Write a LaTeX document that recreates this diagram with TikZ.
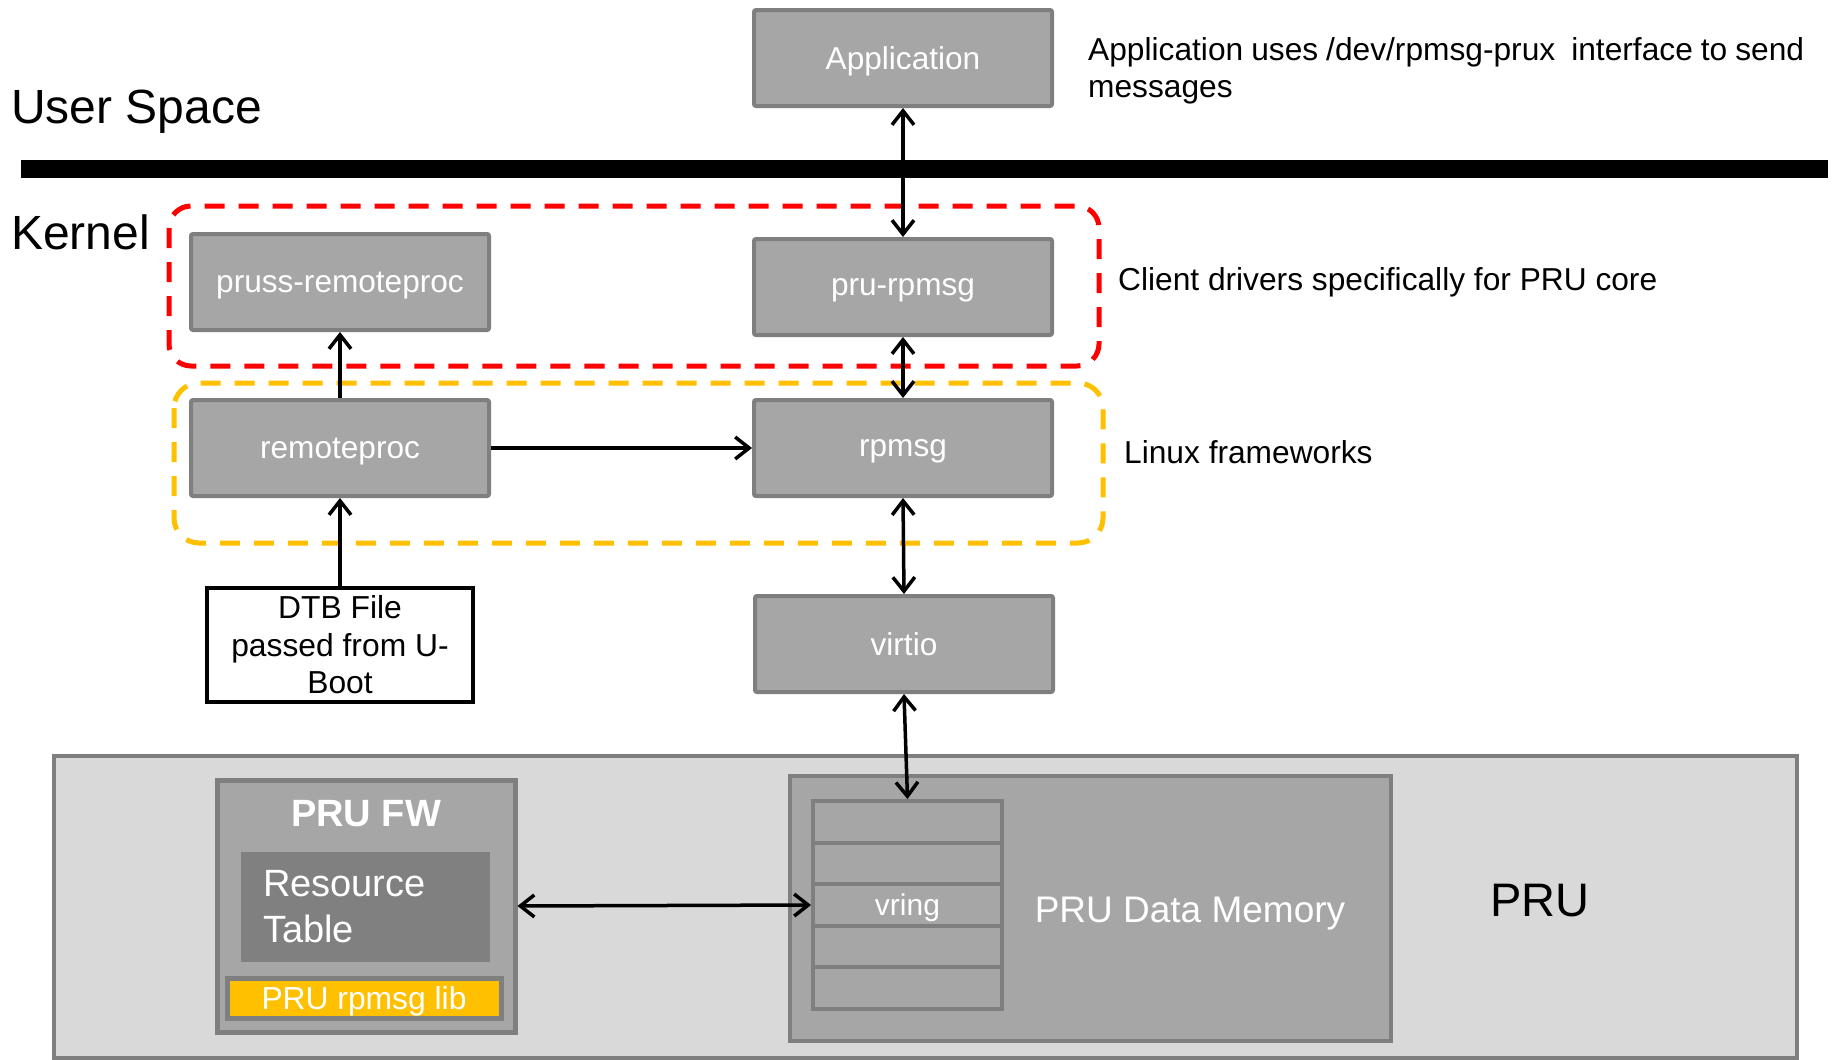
\documentclass[tikz,border=0pt]{standalone}
\usepackage{fontspec}
\setmainfont{Liberation Sans}
\usetikzlibrary{arrows.meta}
\definecolor{boxfill}{HTML}{A6A6A6}
\definecolor{boxline}{HTML}{7F7F7F}
\definecolor{pruback}{HTML}{D9D9D9}
\definecolor{tablefill}{HTML}{808080}
\definecolor{libyellow}{HTML}{FFC000}
\definecolor{groupred}{HTML}{FF0000}
\begin{document}
\begin{tikzpicture}[x=1pt,y=-1pt,
  >={Straight Barb[length=14pt,width=22pt]},
  module/.style={draw=boxline, fill=boxfill, line width=4pt, rounded corners=2pt,
    minimum width=298pt, minimum height=96pt, inner sep=0pt, text=white,
    text depth=0pt, font=\fontsize{31.6}{37}\selectfont},
  cell/.style={draw=boxline, fill=boxfill, line width=4pt, minimum width=189pt,
    minimum height=41.6pt, inner sep=0pt, text=white, text depth=0pt,
    font=\fontsize{30}{36}\selectfont},
  note/.style={anchor=base west, inner sep=0pt, font=\fontsize{31.7}{37}\selectfont},
  layer/.style={anchor=base west, inner sep=0pt, font=\fontsize{48}{58}\selectfont},
  group/.style={line width=5pt, dash pattern=on 20pt off 14pt},
  link/.style={line width=3.5pt, black}
]
\useasboundingbox (0,0) rectangle (1837,1060);
\fill[white] (0,0) rectangle (1837,1060);

% layer labels and the user/kernel divider
\node[layer] (user) at (11,123) {User Space};
\node[layer] (kernel) at (11,249) {Kernel};
\coordinate (divl) at (21,169);
\coordinate (divr) at (1828,169);
\draw[line width=18pt] (divl) -- (divr);

% driver groups
\draw[group, groupred, rounded corners=22pt] (169,206) rectangle (1099,366);
\draw[group, libyellow, rounded corners=25pt] (174,383) rectangle (1103,543);

% kernel and user modules
\node[module] (app) at (903,58) {Application};
\node[module] (prurpmsg) at (903,287) {pru-rpmsg};
\node[module] (pruss) at (340,282) {pruss-remoteproc};
\node[module] (rproc) at (340,448) {remoteproc};
\node[module] (rpmsg) at (903,448) {rpmsg};
\node[module] (virtio) at (904,644) {virtio};
\node[draw=black, fill=white, line width=4pt, minimum width=266pt, minimum height=114pt,
  inner sep=0pt, align=center, font=\fontsize{31.8}{37.5}\selectfont] (dtb) at (340,645)
  {DTB File\\passed from U-\\Boot};

% side notes
\node[note] (appnote) at (1088,60)
  {\hbox to 716pt{Application uses /dev/rpmsg-prux\ \ interface to send}};
\node[note] (appnote2) at (1088,97) {messages};
\node[note] (clientnote) at (1118,290) {Client drivers specifically for PRU core};
\node[note] (fwnote) at (1124,463) {Linux frameworks};

% PRU subsystem
\node[draw=boxline, fill=pruback, line width=4pt, minimum width=1743pt, minimum height=302pt,
  inner sep=0pt] (pru) at (925.5,907) {};
\node[anchor=base west, inner sep=0pt, font=\fontsize{47}{56}\selectfont] (prulabel) at (1490,916) {PRU};

\node[draw=boxline, fill=boxfill, line width=5pt, minimum width=298pt, minimum height=252pt,
  inner sep=0pt] (prufw) at (366,906) {};
\node[anchor=base, inner sep=0pt, text=white, font=\bfseries\fontsize{38}{45}\selectfont]
  (fwtitle) at (366,826) {PRU FW};
\node[fill=tablefill, minimum width=249pt, minimum height=110pt, text width=205pt,
  inner xsep=22pt, inner ysep=0pt, align=left, text=white,
  font=\fontsize{38}{46}\selectfont] (rtable) at (365.5,907) {Resource\\Table};
\node[draw=boxline, fill=libyellow, line width=5pt, minimum width=274pt, minimum height=40pt,
  inner sep=0pt, text=white, text depth=0pt, font=\fontsize{31.8}{37}\selectfont]
  (lib) at (364,998) {PRU rpmsg lib};

\node[draw=boxline, fill=boxfill, line width=4pt, minimum width=601pt, minimum height=265pt,
  inner sep=0pt] (datamem) at (1090.5,908.5) {};
\node[anchor=base, inner sep=0pt, text=white, font=\fontsize{37}{44}\selectfont]
  (dmlabel) at (1190,922) {PRU Data Memory};
\node[cell] (ring1) at (907.5,821.8) {};
\node[cell] (ring2) at (907.5,863.4) {};
\node[cell] (ring3) at (907.5,905.0) {vring};
\node[cell] (ring4) at (907.5,946.6) {};
\node[cell] (ring5) at (907.5,988.2) {};

% connectors
\draw[link, <->] (app) -- (prurpmsg);
\draw[link, <->] (prurpmsg) -- (rpmsg);
\draw[link, ->] (rproc) -- (pruss);
\draw[link, ->] (rproc) -- (rpmsg);
\draw[link, ->] (dtb) -- (rproc);
\draw[link, <->] (rpmsg.south) -- (virtio.north);
\draw[link, <->] (virtio.south) -- (ring1.north);
\draw[link, <->] (prufw.east) -- (ring3.west);
\end{tikzpicture}
\end{document}
